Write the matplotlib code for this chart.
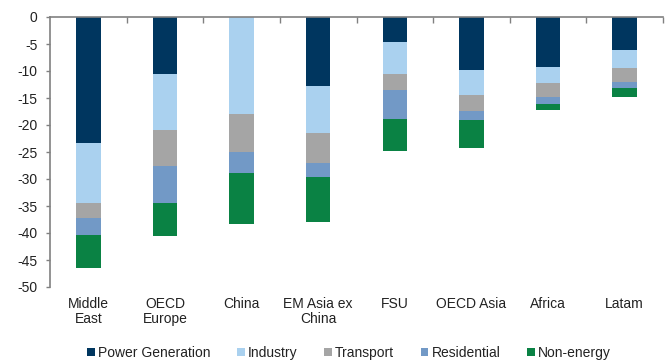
import matplotlib
matplotlib.use("Agg")
import matplotlib.pyplot as plt
import numpy as np

plt.rcParams['font.family'] = ['Liberation Sans', 'DejaVu Sans']

regions = ["Middle\nEast", "OECD\nEurope", "China", "EM Asia ex\nChina",
           "FSU", "OECD Asia", "Africa", "Latam"]

power_generation = [-23.4, -10.5, 0.0, -12.7, -4.6, -9.9, -9.3, -6.2]
industry = [-11.0, -10.5, -17.9, -8.7, -5.9, -4.6, -2.9, -3.3]
transport = [-2.9, -6.6, -7.1, -5.6, -3.1, -2.9, -2.6, -2.6]
residential = [-3.0, -6.9, -3.8, -2.7, -5.3, -1.6, -1.3, -1.1]
non_energy = [-6.2, -6.1, -9.6, -8.3, -6.0, -5.2, -1.2, -1.6]

series_names = ["Power Generation", "Industry", "Transport", "Residential", "Non-energy"]
series_values = [power_generation, industry, transport, residential, non_energy]
series_colors = ["#00365f", "#aad1ef", "#a5a5a5", "#7299c6", "#0a8244"]

yticks = list(range(0, -55, -5))

fig = plt.figure(figsize=(6.71, 3.61), dpi=100)
ax = fig.add_axes([50 / 671, 1 - 287 / 361, 613 / 671, 270 / 361])

x = np.arange(len(regions))
bottom = np.zeros(len(regions))
for name, vals, color in zip(series_names, series_values, series_colors):
    vals = np.array(vals)
    ax.bar(x, vals, width=0.32, bottom=bottom, color=color, label=name,
           edgecolor="none")
    bottom = bottom + vals

ax.set_xlim(-0.5, len(regions) - 0.5)
ax.set_ylim(-50, 0)
ax.set_yticks(yticks)
ax.set_yticklabels([str(v) for v in yticks])

# category labels below the plot, tick marks along the zero line
ax.set_xticks(x)
ax.set_xticklabels(regions, fontsize=10, color="#222222", linespacing=1.15)
ax.tick_params(axis="x", which="major", length=0, pad=7)
ax.set_xticks(np.arange(0.5, len(regions)), minor=True)
ax.tick_params(axis="x", which="minor", bottom=False, top=True,
               direction="in", length=4, color="#808080", width=1)

ax.tick_params(axis="y", direction="out", length=3, color="#808080",
               labelsize=10, labelcolor="#222222", pad=6, width=1)

for side in ["right", "bottom"]:
    ax.spines[side].set_visible(False)
for side in ["left", "top"]:
    ax.spines[side].set_color("#808080")
    ax.spines[side].set_linewidth(1.2)

fig.legend(loc="center", bbox_to_anchor=(349 / 671, 1 - 353 / 361), ncol=5,
           frameon=False, fontsize=10, handlelength=0.55, handleheight=0.55,
           handletextpad=0.25, columnspacing=1.9, borderaxespad=0,
           labelcolor="#222222")

fig.savefig("out.png", dpi=100)
